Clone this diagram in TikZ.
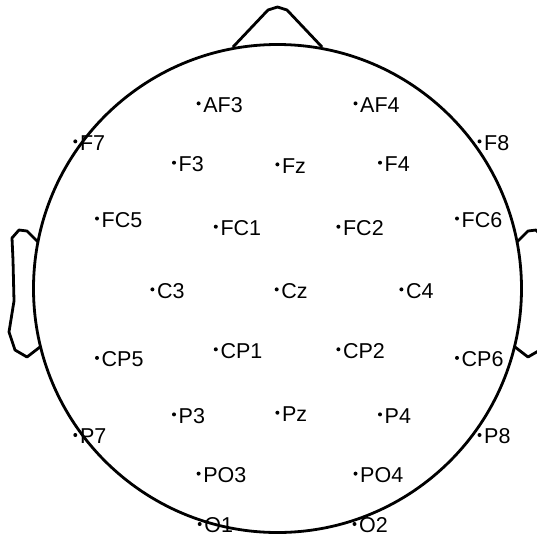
\documentclass[tikz,border=0pt]{standalone}
\usepackage{fontspec}
\setmainfont{Liberation Sans}
\begin{document}
\begin{tikzpicture}[x=1pt,y=-1pt,
  outline/.style={line width=2.8pt, line join=round},
  lbl/.style={anchor=west, inner sep=0pt, font=\fontsize{21.5}{22}\selectfont},
  dotmark/.style={fill=black}]
\useasboundingbox (0,0) rectangle (537,539);
\clip (0,0) rectangle (537,539);
\coordinate (c) at (277.5,288.5);
\draw[outline] (c) circle (244);
% nose
\draw[outline] (233,47) -- (268,10) -- (277.5,7) -- (287,10) -- (322,47);
% ears
\draw[outline] (38,242) -- (27,231) -- (19,230) -- (12,238) -- (13,260) -- (14,301) -- (9,332) -- (15,350) -- (27,357) -- (40,347);
\draw[outline] (517,242) -- (528,231) -- (536,230) -- (543,238) -- (542,260) -- (541,301) -- (546,332) -- (540,350) -- (528,357) -- (515,347);
% electrodes
\foreach \n/\x/\y in {AF3/198.6/103.4, AF4/355.5/103.4, F7/75.3/141.4, F8/479.5/141.4,
  F3/174/162.7, Fz/277.4/164.4, F4/380/162.7,
  FC5/97/218.5, FC1/215.8/226.7, FC2/338.4/226.7, FC6/457/218.5,
  C3/152.4/289.4, Cz/276.7/289.4, C4/401.4/289.4,
  CP5/97/357.9, CP1/215.8/349.3, CP2/338.4/349.3, CP6/457/357.9,
  P3/174/414.4, Pz/277.4/412.7, P4/380/414.4, P7/75.3/435, P8/479.5/435,
  PO3/198.6/473.6, PO4/355.5/473.6, O1/199.7/524, O2/354.5/524}{
  \fill[dotmark] (\x,\y) circle (2);
  \node[lbl] (\n) at (\x+4.5,\y+1.5) {\n};
}
\end{tikzpicture}
\end{document}
